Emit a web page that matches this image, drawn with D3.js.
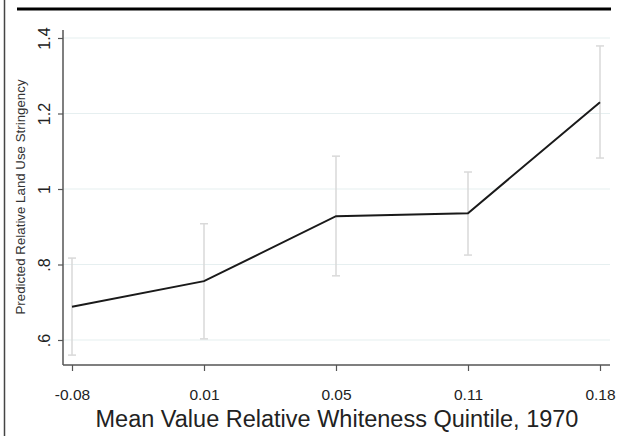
<!DOCTYPE html>
<html><head><meta charset="utf-8">
<script src="https://cdn.jsdelivr.net/npm/d3@7"></script>
<style>body{margin:0;background:#fff}svg{display:block}text{font-family:Arial,"Liberation Sans",sans-serif}</style>
</head><body><svg id="c" width="620" height="436"></svg>
<script>
const categories = ["-0.08","0.01","0.05","0.11","0.18"];
const predicted = [0.688, 0.756, 0.928, 0.936, 1.230];
const ciLow = [0.560, 0.603, 0.770, 0.825, 1.082];
const ciHigh = [0.817, 0.908, 1.087, 1.045, 1.379];
const yTicks = [0.6, 0.8, 1.0, 1.2, 1.4];
const yTickLabels = [".6", ".8", "1", "1.2", "1.4"];

const svg = d3.select("#c");
const x = d3.scalePoint().domain(categories).range([72, 600]);
const y = d3.scaleLinear().domain([1, 1.2]).range([189, 113.5]);
const yBottom = 365, yTop = 30, xLeft = 63, xRight = 610;

// frame lines
svg.append("line").attr("x1",4.5).attr("x2",4.5).attr("y1",0).attr("y2",436).attr("stroke","#444").attr("stroke-width",1.5);
svg.append("line").attr("x1",17).attr("x2",611).attr("y1",9).attr("y2",9).attr("stroke","#000").attr("stroke-width",3);

// gridlines
svg.append("g").selectAll("line").data(yTicks).join("line")
  .attr("x1",xLeft).attr("x2",xRight).attr("y1",d=>y(d)).attr("y2",d=>y(d))
  .attr("stroke","#e6eff0").attr("stroke-width",1.2);

// error bars
const eb = svg.append("g").attr("stroke","#d9d9d9").attr("stroke-width",1.5);
categories.forEach((c,i)=>{
  const cx = x(c);
  eb.append("line").attr("x1",cx).attr("x2",cx).attr("y1",y(ciLow[i])).attr("y2",y(ciHigh[i]));
  eb.append("line").attr("x1",cx-4).attr("x2",cx+4).attr("y1",y(ciLow[i])).attr("y2",y(ciLow[i]));
  eb.append("line").attr("x1",cx-4).attr("x2",cx+4).attr("y1",y(ciHigh[i])).attr("y2",y(ciHigh[i]));
});

// line
svg.append("path").datum(categories.map((c,i)=>[c,predicted[i]]))
  .attr("fill","none").attr("stroke","#1a1a1a").attr("stroke-width",2)
  .attr("d", d3.line().x(d=>x(d[0])).y(d=>y(d[1])));

// y axis
const yAxis = svg.append("g").attr("transform",`translate(${xLeft},0)`)
  .call(d3.axisLeft(y).tickValues(yTicks).tickFormat((d,i)=>yTickLabels[i]).tickSize(5).tickSizeOuter(0));
yAxis.attr("font-size",null).attr("font-family",null);
yAxis.select(".domain").attr("d",`M0,${yTop}V${yBottom}`).attr("stroke","#555").attr("stroke-width",1.5);
yAxis.selectAll(".tick line").attr("stroke","#555").attr("stroke-width",1.2);
yAxis.selectAll(".tick text").style("font-size","16px").attr("fill","#222")
  .attr("transform","rotate(-90)").attr("x",0).attr("y",-13).attr("dy",null).attr("text-anchor","middle");

// x axis
const xAxis = svg.append("g").attr("transform",`translate(0,${yBottom})`)
  .call(d3.axisBottom(x).tickSize(6).tickSizeOuter(0));
xAxis.attr("font-size",null).attr("font-family",null);
xAxis.select(".domain").attr("d",`M${xLeft},0H${xRight}`).attr("stroke","#555").attr("stroke-width",1.5);
xAxis.selectAll(".tick line").attr("stroke","#555").attr("stroke-width",1.2);
xAxis.selectAll(".tick text").style("font-size","15.5px").attr("fill","#222").attr("y",35).attr("dy",null);

// titles
svg.append("text").attr("x",337).attr("y",427).attr("text-anchor","middle")
  .style("font-size","23.5px").attr("fill","#222").text("Mean Value Relative Whiteness Quintile, 1970");
svg.append("text").attr("transform","translate(24.5,197) rotate(-90)").attr("text-anchor","middle")
  .style("font-size","13.3px").attr("fill","#333").text("Predicted Relative Land Use Stringency");
</script></body></html>
